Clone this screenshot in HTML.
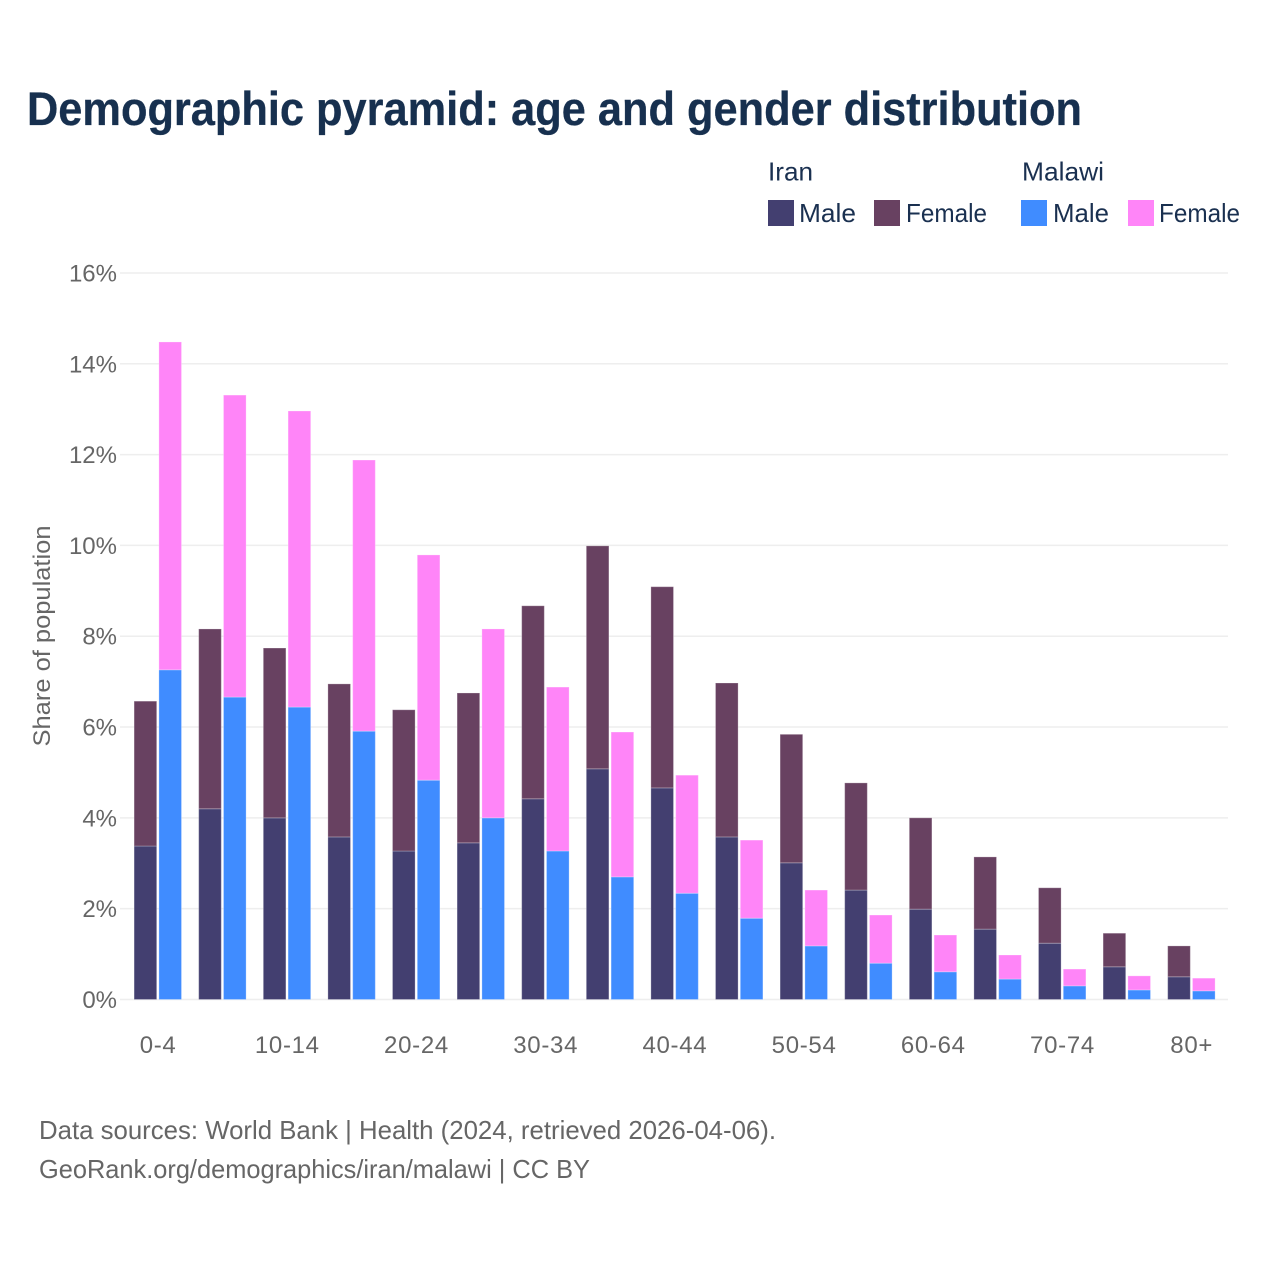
<!DOCTYPE html>
<html lang="en">
<head>
<meta charset="utf-8">
<title>Demographic pyramid: age and gender distribution</title>
<style>
html,body{margin:0;padding:0;background:#fff;}
svg{display:block;font-family:"Liberation Sans",sans-serif;}
.legend{font-size:26px;fill:#1a3050;}
.tick{font-size:24px;fill:#666;}
.foot{font-size:26px;fill:#666;}
</style>
</head>
<body>
<svg id="chart" xmlns="http://www.w3.org/2000/svg" width="1280" height="1280" viewBox="0 0 1280 1280">
  <rect x="0" y="0" width="1280" height="1280" fill="#fff"/>
  <text x="27" y="125" font-size="47" font-weight="700" fill="#17304f" stroke="#17304f" stroke-width="0.3" textLength="1055" lengthAdjust="spacingAndGlyphs">Demographic pyramid: age and gender distribution</text>

  <g>
    <text class="legend" x="768" y="180.5" textLength="45" lengthAdjust="spacingAndGlyphs">Iran</text>
    <text class="legend" x="1022" y="180.5" textLength="82" lengthAdjust="spacingAndGlyphs">Malawi</text>
    <rect x="768" y="200" width="26" height="26" fill="#433f70"/>
    <text class="legend" x="799" y="222" textLength="57" lengthAdjust="spacingAndGlyphs">Male</text>
    <rect x="874" y="200" width="26" height="26" fill="#684161"/>
    <text class="legend" x="906" y="222" textLength="81" lengthAdjust="spacingAndGlyphs">Female</text>
    <rect x="1021" y="200" width="26" height="26" fill="#408cff"/>
    <text class="legend" x="1053" y="222" textLength="56" lengthAdjust="spacingAndGlyphs">Male</text>
    <rect x="1128" y="200" width="26" height="26" fill="#ff85f8"/>
    <text class="legend" x="1159" y="222" textLength="81" lengthAdjust="spacingAndGlyphs">Female</text>
  </g>

  <g id="grid"></g>
  <g id="yticks"></g>
  <g id="bars"></g>
  <g id="xticks"></g>

  <text class="tick" transform="translate(50,636) rotate(-90)" text-anchor="middle" textLength="221" lengthAdjust="spacingAndGlyphs">Share of population</text>

  <text class="foot" x="39" y="1139" textLength="737" lengthAdjust="spacingAndGlyphs">Data sources: World Bank | Health (2024, retrieved 2026-04-06).</text>
  <text class="foot" x="39" y="1178" textLength="551" lengthAdjust="spacingAndGlyphs">GeoRank.org/demographics/iran/malawi | CC BY</text>
</svg>
<script>
const ageGroups = ["0-4","5-9","10-14","15-19","20-24","25-29","30-34","35-39","40-44","45-49","50-54","55-59","60-64","65-69","70-74","75-79","80+"];
const shownAgeLabels = ["0-4","10-14","20-24","30-34","40-44","50-54","60-64","70-74","80+"];
const iranMale = [3.38,4.20,4.00,3.58,3.27,3.45,4.42,5.08,4.66,3.58,3.01,2.41,1.99,1.55,1.24,0.72,0.50];
const iranFemale = [3.19,3.96,3.74,3.37,3.11,3.30,4.25,4.91,4.43,3.39,2.83,2.36,2.01,1.59,1.22,0.74,0.68];
const malawiMale = [7.26,6.66,6.44,5.91,4.83,4.00,3.27,2.70,2.34,1.79,1.18,0.80,0.61,0.45,0.30,0.21,0.19];
const malawiFemale = [7.22,6.65,6.52,5.97,4.96,4.16,3.61,3.19,2.60,1.72,1.23,1.06,0.81,0.53,0.37,0.31,0.28];
const yTicks = [0,2,4,6,8,10,12,14,16];

const NS = "http://www.w3.org/2000/svg";
const yScale = v => 999.5 - v * 45.41;
const groupLeft = i => 125.3 + i * 64.6;
const groupCenter = i => groupLeft(i) + 32.3;
const barWidth = 22.6;
const barOffset = c => c === 0 ? 8.8 : 33.6;

const gridG = document.getElementById("grid");
const yG = document.getElementById("yticks");
const barsG = document.getElementById("bars");
const xG = document.getElementById("xticks");

yTicks.forEach(t => {
  const line = document.createElementNS(NS, "line");
  
  
  line.setAttribute("x1", 120);
  line.setAttribute("x2", 1228);
  line.setAttribute("y1", yScale(t));
  line.setAttribute("y2", yScale(t));
  line.setAttribute("stroke", "#eeeeee");
  line.setAttribute("stroke-width", 1.5);
  gridG.appendChild(line);

  const label = document.createElementNS(NS, "text");
  
  
  label.setAttribute("class", "tick");
  label.setAttribute("x", 117);
  label.setAttribute("y", yScale(t) + 8.5);
  label.setAttribute("text-anchor", "end");
  label.textContent = t + "%";
  yG.appendChild(label);
});

function drawBar(i, c, base, value, fill) {
  const r = document.createElementNS(NS, "rect");
  
  
  r.setAttribute("x", groupLeft(i) + barOffset(c));
  r.setAttribute("y", yScale(base + value));
  r.setAttribute("width", barWidth);
  r.setAttribute("height", yScale(base) - yScale(base + value));
  r.setAttribute("fill", fill);
  r.setAttribute("stroke", "#ffffff");
  r.setAttribute("stroke-opacity", "0.25");
  r.setAttribute("stroke-width", "1");
  barsG.appendChild(r);
}

ageGroups.forEach((g, i) => {
  drawBar(i, 0, 0, iranMale[i], "#433f70");
  drawBar(i, 0, iranMale[i], iranFemale[i], "#684161");
  drawBar(i, 1, 0, malawiMale[i], "#408cff");
  drawBar(i, 1, malawiMale[i], malawiFemale[i], "#ff85f8");
  if (shownAgeLabels.includes(g)) {
    const label = document.createElementNS(NS, "text");
    
    
    label.setAttribute("class", "tick");
    label.setAttribute("x", groupCenter(i) + 0.5);
    label.setAttribute("y", 1053);
    label.setAttribute("text-anchor", "middle");
    label.setAttribute("letter-spacing", "0.7");
    label.textContent = g;
    xG.appendChild(label);
  }
});
</script>
</body>
</html>
